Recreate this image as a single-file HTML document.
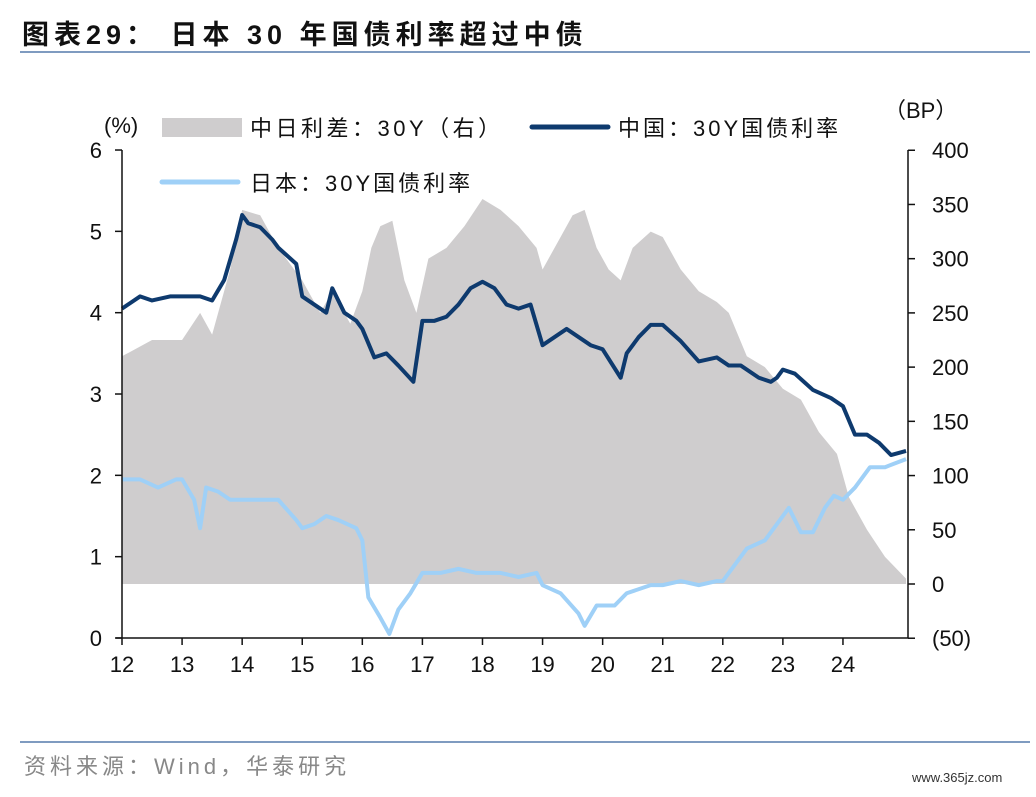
<!DOCTYPE html>
<html><head><meta charset="utf-8">
<style>
body{margin:0;background:#fff;width:1036px;height:792px;overflow:hidden;font-family:"Liberation Sans","Noto Sans CJK SC",sans-serif;}
</style></head>
<body>
<svg id="chart" width="1036" height="792" xmlns="http://www.w3.org/2000/svg" font-family="Liberation Sans, Noto Sans CJK SC, sans-serif">
<text x="22" y="44" font-size="27" font-weight="bold" fill="#111" letter-spacing="5">图表29：  日本 30 年国债利率超过中债</text>
<line x1="20" y1="52" x2="1030" y2="52" stroke="#7f9bc0" stroke-width="2"/>
<g id="shade"></g>
<g id="lines"></g>
<g id="axes"></g>
<text x="104" y="133" font-size="22" fill="#111">(%)</text>
<text x="884" y="118" font-size="22" fill="#111">（BP）</text>
<rect x="162" y="118" width="80" height="19" fill="#cfcdce"/>
<text x="250" y="136" font-size="22" fill="#111" letter-spacing="3.5">中日利差：30Y（右）</text>
<line x1="532" y1="127" x2="608" y2="127" stroke="#0e3a6e" stroke-width="5" stroke-linecap="round"/>
<text x="618" y="136" font-size="22" fill="#111" letter-spacing="3">中国：30Y国债利率</text>
<line x1="162" y1="182" x2="238" y2="182" stroke="#9fd0f7" stroke-width="5" stroke-linecap="round"/>
<text x="250" y="191" font-size="22" fill="#111" letter-spacing="3">日本：30Y国债利率</text>
<line x1="20" y1="742" x2="1030" y2="742" stroke="#7f9bc0" stroke-width="2"/>
<text x="24" y="774" font-size="22" fill="#888" letter-spacing="4">资料来源：Wind，华泰研究</text>
<text x="912" y="782" font-size="13" fill="#333">www.365jz.com</text>
</svg>
<script>
const xTickLabels=["12","13","14","15","16","17","18","19","20","21","22","23","24"];
const yLeftTicks=[0,1,2,3,4,5,6];
const yRightTicks=[400,350,300,250,200,150,100,50,0,-50];
const chinaT=[2012.0,2012.3,2012.5,2012.8,2013.0,2013.3,2013.5,2013.7,2013.9,2014.0,2014.1,2014.3,2014.5,2014.6,2014.9,2015.0,2015.2,2015.4,2015.5,2015.7,2015.9,2016.0,2016.2,2016.4,2016.6,2016.85,2017.0,2017.2,2017.4,2017.6,2017.8,2018.0,2018.2,2018.4,2018.6,2018.8,2019.0,2019.2,2019.4,2019.6,2019.8,2020.0,2020.3,2020.4,2020.6,2020.8,2021.0,2021.3,2021.6,2021.9,2022.1,2022.3,2022.6,2022.8,2022.9,2023.0,2023.2,2023.5,2023.8,2024.0,2024.2,2024.4,2024.6,2024.8,2025.05];
const chinaV=[4.05,4.2,4.15,4.2,4.2,4.2,4.15,4.4,4.9,5.2,5.1,5.05,4.9,4.8,4.6,4.2,4.1,4.0,4.3,4.0,3.9,3.8,3.45,3.5,3.35,3.15,3.9,3.9,3.95,4.1,4.3,4.38,4.3,4.1,4.05,4.1,3.6,3.7,3.8,3.7,3.6,3.55,3.2,3.5,3.7,3.85,3.85,3.65,3.4,3.45,3.35,3.35,3.2,3.15,3.2,3.3,3.25,3.05,2.95,2.85,2.5,2.5,2.4,2.25,2.3];
const japanT=[2012.0,2012.3,2012.6,2012.9,2013.0,2013.2,2013.3,2013.4,2013.6,2013.8,2014.0,2014.3,2014.6,2014.9,2015.0,2015.2,2015.4,2015.6,2015.9,2016.0,2016.1,2016.3,2016.45,2016.6,2016.8,2017.0,2017.3,2017.6,2017.9,2018.3,2018.6,2018.9,2019.0,2019.3,2019.6,2019.7,2019.9,2020.2,2020.4,2020.8,2021.0,2021.3,2021.6,2021.9,2022.0,2022.2,2022.4,2022.7,2022.9,2023.1,2023.3,2023.5,2023.7,2023.85,2024.0,2024.2,2024.45,2024.7,2025.05];
const japanV=[1.95,1.95,1.85,1.95,1.95,1.7,1.35,1.85,1.8,1.7,1.7,1.7,1.7,1.45,1.35,1.4,1.5,1.45,1.35,1.2,0.5,0.25,0.05,0.35,0.55,0.8,0.8,0.85,0.8,0.8,0.75,0.8,0.65,0.55,0.3,0.15,0.4,0.4,0.55,0.65,0.65,0.7,0.65,0.7,0.7,0.9,1.1,1.2,1.4,1.6,1.3,1.3,1.6,1.75,1.7,1.85,2.1,2.1,2.2];
const spreadT=[2012.0,2012.5,2013.0,2013.3,2013.5,2013.8,2014.0,2014.3,2014.6,2015.0,2015.3,2015.5,2015.8,2016.0,2016.15,2016.3,2016.5,2016.7,2016.9,2017.1,2017.4,2017.7,2018.0,2018.3,2018.6,2018.9,2019.0,2019.3,2019.5,2019.7,2019.9,2020.1,2020.3,2020.5,2020.8,2021.0,2021.3,2021.6,2021.9,2022.1,2022.4,2022.7,2023.0,2023.3,2023.6,2023.9,2024.1,2024.4,2024.7,2025.05];
const spreadV=[210,225,225,250,230,290,345,340,310,280,250,270,240,270,310,330,335,280,250,300,310,330,355,345,330,310,290,320,340,345,310,290,280,310,325,320,290,270,260,250,210,200,180,170,140,120,80,50,25,5];

const NS="http://www.w3.org/2000/svg";
const X0=122,X1=908;
const x=t=>X0+(t-2012)*60.08;
const yL=v=>638-v*81.33;
const yR=v=>584-v*1.0844;
function mk(tag,attrs,parent){const e=document.createElementNS(NS,tag);for(const k in attrs)e.setAttribute(k,attrs[k]);parent.appendChild(e);return e;}
const shade=document.getElementById('shade'),lines=document.getElementById('lines'),axes=document.getElementById('axes');

let d="M"+x(spreadT[0])+","+yR(0);
spreadT.forEach((t,i)=>{d+=" L"+x(t)+","+yR(spreadV[i]);});
d+=" L"+x(spreadT[spreadT.length-1])+","+yR(0)+" Z";
const area=mk('path',{d:d,fill:'#cfcdce'},shade);



const jp=mk('polyline',{points:japanT.map((t,i)=>x(t)+","+yL(japanV[i])).join(" "),fill:'none',stroke:'#9fd0f7','stroke-width':4,'stroke-linejoin':'round'},lines);


const cn=mk('polyline',{points:chinaT.map((t,i)=>x(t)+","+yL(chinaV[i])).join(" "),fill:'none',stroke:'#0e3a6e','stroke-width':4,'stroke-linejoin':'round'},lines);



mk('line',{x1:X0,y1:150,x2:X0,y2:638,stroke:'#111','stroke-width':1.5},axes);
mk('line',{x1:X1,y1:150,x2:X1,y2:638,stroke:'#111','stroke-width':1.5},axes);
mk('line',{x1:X0-6,y1:638,x2:X1,y2:638,stroke:'#111','stroke-width':1.5},axes);
yLeftTicks.forEach(v=>{
  mk('line',{x1:X0-7,y1:yL(v),x2:X0,y2:yL(v),stroke:'#111','stroke-width':1.5},axes);
  const tx=mk('text',{x:X0-20,y:yL(v)+8,'font-size':22,'text-anchor':'end',fill:'#111'},axes);
  tx.textContent=v;
  
  
});
yRightTicks.forEach(v=>{
  mk('line',{x1:X1,y1:yR(v),x2:X1+7,y2:yR(v),stroke:'#111','stroke-width':1.5},axes);
  const tx=mk('text',{x:X1+24,y:yR(v)+8,'font-size':22,fill:'#111'},axes);
  tx.textContent=v<0?"("+(-v)+")":v;
  
  
});
xTickLabels.forEach((l,i)=>{
  const px=x(2012+i);
  mk('line',{x1:px,y1:638,x2:px,y2:645,stroke:'#111','stroke-width':1.5},axes);
  const tx=mk('text',{x:px,y:672,'font-size':22,'text-anchor':'middle',fill:'#111'},axes);
  tx.textContent=l;
  
  
});
</script>
</body></html>
